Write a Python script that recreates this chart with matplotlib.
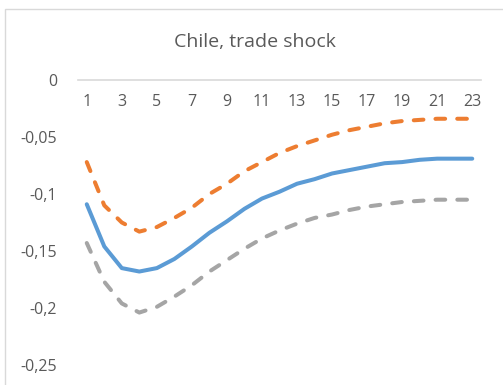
import matplotlib
matplotlib.use("Agg")
import matplotlib.pyplot as plt
from matplotlib.patches import Rectangle

periods = list(range(1, 24))
median = [-0.109, -0.146, -0.165, -0.168, -0.165, -0.157, -0.146, -0.134, -0.124, -0.113,
          -0.104, -0.098, -0.091, -0.087, -0.082, -0.079, -0.076, -0.073, -0.072, -0.070,
          -0.069, -0.069, -0.069]
upper = [-0.072, -0.110, -0.125, -0.133, -0.129, -0.121, -0.112, -0.100, -0.091, -0.080,
         -0.072, -0.064, -0.058, -0.053, -0.048, -0.044, -0.041, -0.038, -0.036, -0.035,
         -0.034, -0.034, -0.034]
lower = [-0.143, -0.177, -0.196, -0.204, -0.199, -0.190, -0.180, -0.168, -0.158, -0.148,
         -0.139, -0.132, -0.126, -0.121, -0.118, -0.114, -0.111, -0.109, -0.107, -0.106,
         -0.105, -0.105, -0.105]
xtick_labels = [str(i) for i in range(1, 24, 2)]
yticks = [0, -0.05, -0.1, -0.15, -0.2, -0.25]
ytick_labels = ["0", "-0,05", "-0,1", "-0,15", "-0,2", "-0,25"]
title = "Chile, trade shock"

plt.rcParams['font.family'] = ['Open Sans', 'DejaVu Sans']
W, H = 503, 385
fig = plt.figure(figsize=(W / 100, H / 100), dpi=100)

# chart frame
fig.patches.append(Rectangle((5 / W, -0.1), 1.2, 1 - 9 / H + 0.1, transform=fig.transFigure,
                             fill=False, edgecolor='#d9d9d9', linewidth=1.0))

ax = fig.add_axes([78 / W, 1 - 365 / H, (481 - 78) / W, (365 - 80) / H])
ax.set_xlim(0.5, 23.5)
ax.set_ylim(-0.25, 0)

txt = '#595959'
ax.plot(periods, upper, color='#ED7D31', lw=2.9, dashes=(2.4, 3.0), dash_capstyle='round',
        solid_capstyle='round')
ax.plot(periods, median, color='#5B9BD5', lw=2.9, solid_capstyle='round', solid_joinstyle='round')
ax.plot(periods, lower, color='#A5A5A5', lw=2.9, dashes=(2.4, 3.0), dash_capstyle='round',
        solid_capstyle='round')

for s in ['left', 'right', 'top']:
    ax.spines[s].set_visible(False)
ax.spines['bottom'].set_position(('data', 0))
ax.spines['bottom'].set_color('#d9d9d9')
ax.spines['bottom'].set_linewidth(1.2)
ax.set_xticks(list(range(1, 24, 2)))
ax.set_xticklabels(xtick_labels)
ax.set_yticks(yticks)
ax.set_yticklabels(ytick_labels)
ax.tick_params(axis='x', length=0, pad=10, labelsize=11.5, labelcolor=txt)
ax.tick_params(axis='y', length=0, pad=15, labelsize=11.5, labelcolor=txt)
for lab in ax.get_yticklabels():
    lab.set_ha('right')

fig.text(255 / W, 1 - 42 / H, title, ha='center', va='center', fontsize=14, color=txt)

fig.savefig('out.png', dpi=100)
